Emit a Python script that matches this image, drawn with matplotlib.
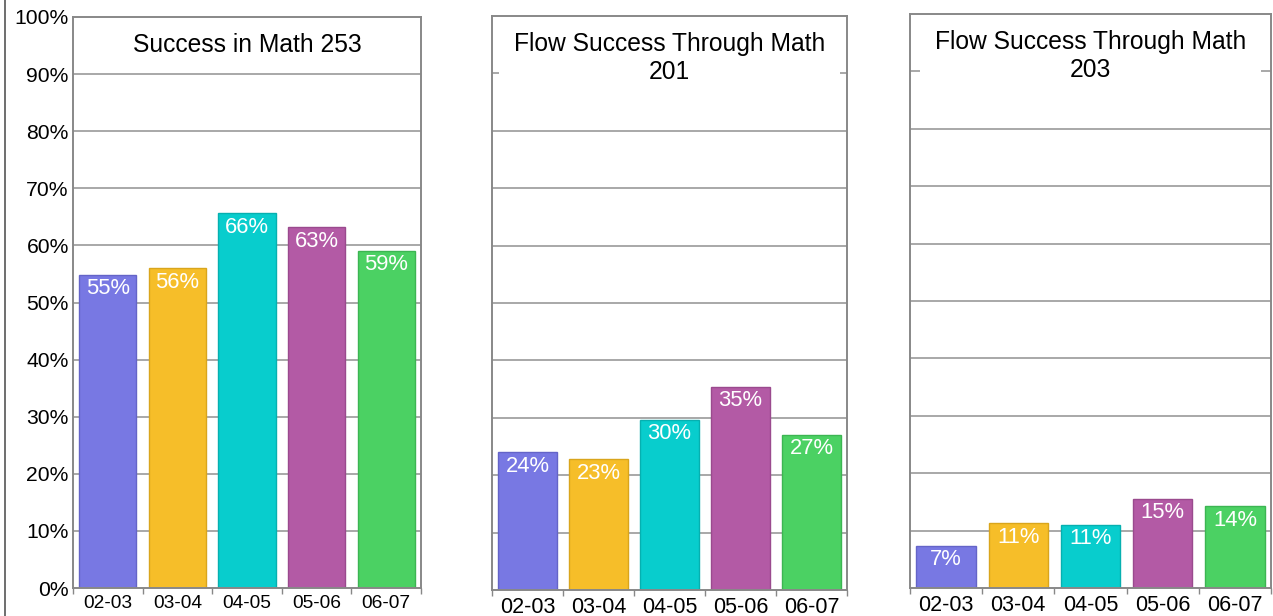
import matplotlib
matplotlib.use("Agg")
import matplotlib.pyplot as plt
from matplotlib.lines import Line2D

plt.rcParams['font.family'] = ['Liberation Sans', 'DejaVu Sans']

categories = ["02-03", "03-04", "04-05", "05-06", "06-07"]
titles = ["Success in Math 253", "Flow Success Through Math\n201", "Flow Success Through Math\n203"]
math253 = [54.8, 56.0, 65.6, 63.2, 59.1]
math201 = [24.0, 22.8, 29.6, 35.4, 27.0]
math203 = [7.3, 11.3, 11.0, 15.5, 14.2]
labels253 = ["55%", "56%", "66%", "63%", "59%"]
labels201 = ["24%", "23%", "30%", "35%", "27%"]
labels203 = ["7%", "11%", "11%", "15%", "14%"]
yticks = [0, 10, 20, 30, 40, 50, 60, 70, 80, 90, 100]

colors = ["#7878E3", "#F6BE29", "#08CDCD", "#B35AA5", "#4BD163"]
edges = ["#6464c8", "#d9a51c", "#06b0b0", "#9a4a8e", "#3cb552"]

W, H = 1273, 616
fig = plt.figure(figsize=(W / 100, H / 100), dpi=100)

# panel boxes in pixels: left, top, right, bottom
boxes = [(73, 17, 421, 588), (492, 16, 847, 590), (910, 14, 1271, 588)]
series = [math253, math201, math203]
vlabels = [labels253, labels201, labels203]
xfs = [13.8, 15.5, 15.5]

for i, (box, vals, labs) in enumerate(zip(boxes, series, vlabels)):
    l, t, r, b = box
    ax = fig.add_axes([l / W, 1 - b / H, (r - l) / W, (b - t) / H])
    x = list(range(len(categories)))
    ax.bar(x, vals, width=0.82, color=colors, edgecolor=edges, linewidth=1, zorder=2)
    ax.set_xlim(-0.5, 4.5)
    ax.set_ylim(0, 100)
    ax.set_yticks(yticks)
    for yv in yticks[1:-1]:
        ax.axhline(yv, color="#a8a8a8", linewidth=1.4, zorder=0.5)
    if i == 0:
        ax.set_yticklabels([f"{v}%" for v in yticks], fontsize=15.2)
    else:
        ax.set_yticklabels([])
    ax.tick_params(axis='y', length=0, pad=3)
    ax.set_xticks(x)
    ax.set_xticklabels(categories, fontsize=xfs[i])
    ax.set_xticks([v - 0.5 for v in range(len(categories) + 1)], minor=True)
    ax.tick_params(axis='x', which='major', length=0, pad=5)
    ax.tick_params(axis='x', which='minor', length=4, color="#888888", width=1)
    for s in ax.spines.values():
        s.set_color("#888888")
        s.set_linewidth(1.4)
        s.set_zorder(5)
    for xi, v, lab in zip(x, vals, labs):
        ax.annotate(lab, (xi, v), xytext=(0, -10), textcoords='offset points',
                    ha='center', va='center', color='white', fontsize=15.8, zorder=3)
    ax.annotate(titles[i], (0.5, 1.0), xycoords='axes fraction', xytext=(0, -11.5),
                textcoords='offset points', ha='center', va='top', fontsize=17.7,
                linespacing=1.2, zorder=4,
                bbox=dict(boxstyle='square,pad=0.62', fc='white', ec='none'))

fig.add_artist(Line2D([5 / W, 5 / W], [0, 1], color="#555555", linewidth=1.2))

fig.savefig("out.png", dpi=100, facecolor='white')
